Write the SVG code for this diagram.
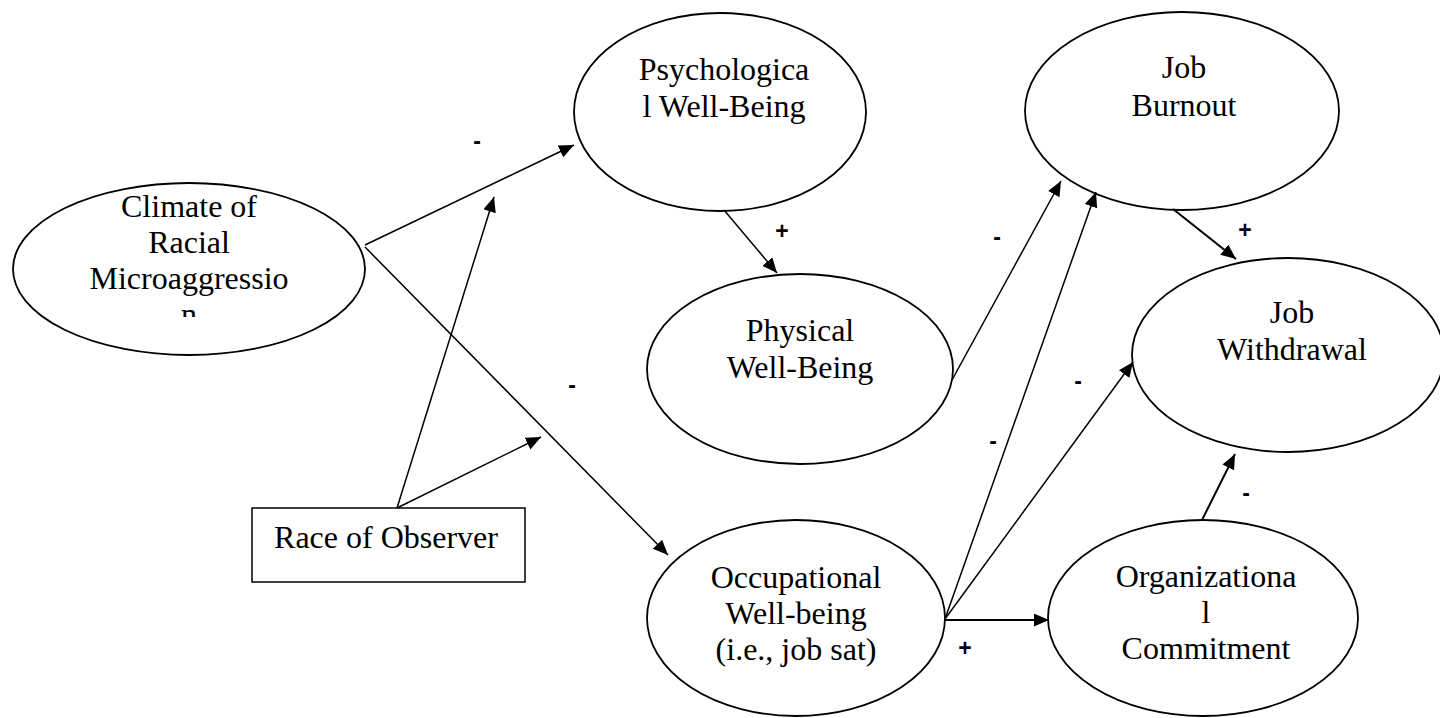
<svg xmlns="http://www.w3.org/2000/svg" width="1440" height="718" viewBox="0 0 1440 718">
<style>
.n{fill:#fff;stroke:#000;stroke-width:1.8}
.t{font-family:"Liberation Serif","Times New Roman",serif;font-size:32px;fill:#000;text-anchor:middle}
.s{font-family:"Liberation Sans",Arial,sans-serif;font-size:23px;font-weight:bold;fill:#000;text-anchor:middle}
.c{stroke:#000;stroke-width:1.5;fill:none}
.c2{stroke:#000;stroke-width:2;fill:none}
</style>
<defs>
<marker id="a" markerUnits="userSpaceOnUse" markerWidth="16" markerHeight="14" refX="15" refY="6.5" orient="auto">
<path d="M0,0 L15,6.5 L0,13 z" fill="#000"/>
</marker>
<clipPath id="clipC"><rect x="0" y="170" width="380" height="147"/></clipPath>
</defs>
<rect width="1440" height="718" fill="#fff"/>
<g id="climate">
<ellipse class="n" cx="189" cy="269" rx="176" ry="86"/>
<g clip-path="url(#clipC)">
<text class="t" x="189" y="217">Climate of</text>
<text class="t" x="189" y="253">Racial</text>
<text class="t" x="189" y="289">Microaggressio</text>
<text class="t" x="189" y="325">n</text>
</g>
</g>
<g id="psych">
<ellipse class="n" cx="720" cy="112" rx="146" ry="99"/>
<text class="t" x="724" y="80">Psychologica</text>
<text class="t" x="724" y="117">l Well-Being</text>
</g>
<g id="burnout">
<ellipse class="n" cx="1182" cy="111" rx="157" ry="99"/>
<text class="t" x="1184" y="78">Job</text>
<text class="t" x="1184" y="116">Burnout</text>
</g>
<g id="physical">
<ellipse class="n" cx="800" cy="369" rx="153" ry="95"/>
<text class="t" x="800" y="341">Physical</text>
<text class="t" x="800" y="378">Well-Being</text>
</g>
<g id="withdrawal">
<ellipse class="n" cx="1288" cy="355" rx="156" ry="97"/>
<text class="t" x="1292" y="323">Job</text>
<text class="t" x="1292" y="360">Withdrawal</text>
</g>
<g id="occupational">
<ellipse class="n" cx="796" cy="618" rx="149" ry="98"/>
<text class="t" x="796" y="588">Occupational</text>
<text class="t" x="796" y="624">Well-being</text>
<text class="t" x="796" y="660">(i.e., job sat)</text>
</g>
<g id="organizational">
<ellipse class="n" cx="1203" cy="618" rx="155" ry="98"/>
<text class="t" x="1206" y="587">Organizationa</text>
<text class="t" x="1206" y="623">l</text>
<text class="t" x="1206" y="659">Commitment</text>
</g>
<g id="race">
<rect x="252" y="508" width="273" height="74" fill="#fff" stroke="#000" stroke-width="1.5"/>
<text class="t" x="386" y="548">Race of Observer</text>
</g>
<g id="connectors">
<line class="c" x1="365" y1="245" x2="574" y2="145" marker-end="url(#a)"/>
<line class="c" x1="365" y1="247" x2="668" y2="555" marker-end="url(#a)"/>
<line class="c" x1="397" y1="508" x2="494" y2="197" marker-end="url(#a)"/>
<line class="c" x1="397" y1="508" x2="541" y2="437" marker-end="url(#a)"/>
<line class="c" x1="724" y1="210" x2="777" y2="273" marker-end="url(#a)"/>
<line class="c" x1="952" y1="380" x2="1061" y2="181" marker-end="url(#a)"/>
<line class="c" x1="945" y1="619" x2="1096" y2="192" marker-end="url(#a)"/>
<line class="c" x1="945" y1="619" x2="1133" y2="362" marker-end="url(#a)"/>
<line class="c2" x1="945" y1="620" x2="1049" y2="620" marker-end="url(#a)"/>
<line class="c2" x1="1173" y1="209" x2="1236" y2="259" marker-end="url(#a)"/>
<line class="c2" x1="1202" y1="520" x2="1235" y2="454" marker-end="url(#a)"/>
</g>
<g id="signs">
<text class="s" x="477" y="149">-</text>
<text class="s" x="782" y="239">+</text>
<text class="s" x="572" y="393">-</text>
<text class="s" x="997" y="245">-</text>
<text class="s" x="1245" y="238">+</text>
<text class="s" x="1078" y="389">-</text>
<text class="s" x="993" y="449">-</text>
<text class="s" x="1246" y="501">-</text>
<text class="s" x="965" y="656">+</text>
</g>
</svg>
